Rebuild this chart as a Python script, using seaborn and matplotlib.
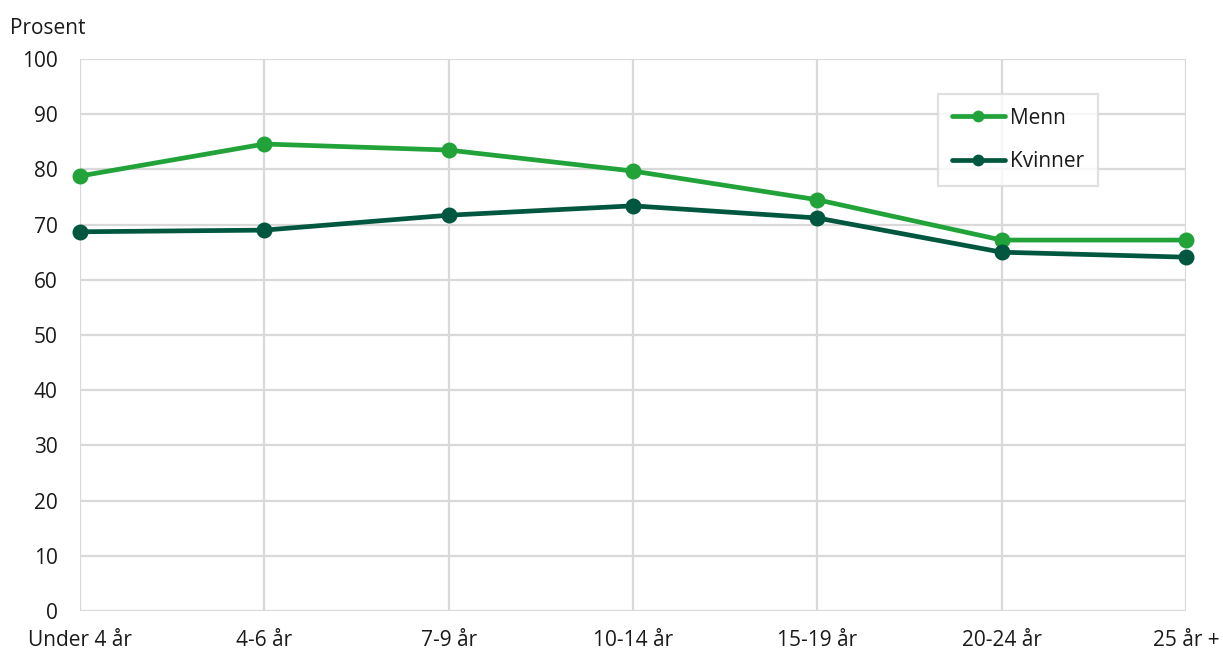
import matplotlib
matplotlib.use("Agg")
import matplotlib.pyplot as plt
import seaborn as sns
import pandas as pd

categories = ["Under 4 år", "4-6 år", "7-9 år", "10-14 år", "15-19 år", "20-24 år", "25 år +"]
menn = [78.8, 84.6, 83.5, 79.7, 74.5, 67.2, 67.2]
kvinner = [68.7, 69.0, 71.7, 73.4, 71.2, 65.0, 64.1]
series_names = ["Menn", "Kvinner"]
palette = {"Menn": "#22a33a", "Kvinner": "#00573f"}

df = pd.DataFrame({
    "kategori": categories * 2,
    "pos": list(range(len(categories))) * 2,
    "verdi": menn + kvinner,
    "serie": [series_names[0]] * len(menn) + [series_names[1]] * len(kvinner),
})

sns.set_style("white")
plt.rcParams["font.family"] = ["Open Sans", "DejaVu Sans"]

W, H = 1223, 653
FS = 15
fig = plt.figure(figsize=(W / 100, H / 100), dpi=100)
ax = fig.add_axes([80 / W, 1 - 611 / H, (1186 - 80) / W, (611 - 59) / H])

sns.lineplot(data=df, x="pos", y="verdi", hue="serie", palette=palette,
             marker="o", markersize=11.5, markeredgewidth=0, linewidth=3.4,
             ax=ax, legend=True, zorder=3, clip_on=False)

ax.set_xlim(0, len(categories) - 1)
ax.set_ylim(0, 100)
ax.set_xticks(range(len(categories)))
ax.set_xticklabels(categories)
ax.set_yticks(range(0, 101, 10))
ax.grid(True, color="#d9d9d9", linewidth=1.6)
ax.set_axisbelow(True)
for s in ax.spines.values():
    s.set_visible(False)
ax.tick_params(axis="both", length=0, labelsize=FS, colors="#1a1a1a")
ax.tick_params(axis="x", pad=14)
ax.tick_params(axis="y", pad=16)
ax.set_xlabel("")
ax.set_ylabel("")
fig.text(10 / W, 1 - 28 / H, "Prosent", fontsize=FS, color="#1a1a1a", va="center", ha="left")

leg = ax.legend(loc="upper left",
                bbox_to_anchor=((938 - 80) / (1186 - 80), 1 - (94 - 59) / (611 - 59)),
                borderaxespad=0, frameon=True, fontsize=FS, handlelength=2.55,
                borderpad=0.65, labelspacing=1.1, handletextpad=0.25, fancybox=False)
leg.get_frame().set_edgecolor("#d9d9d9")
leg.get_frame().set_linewidth(1.6)
for h in leg.legend_handles:
    h.set_markersize(8.5)
for t in leg.get_texts():
    t.set_color("#1a1a1a")

fig.savefig("out.png", dpi=100)
